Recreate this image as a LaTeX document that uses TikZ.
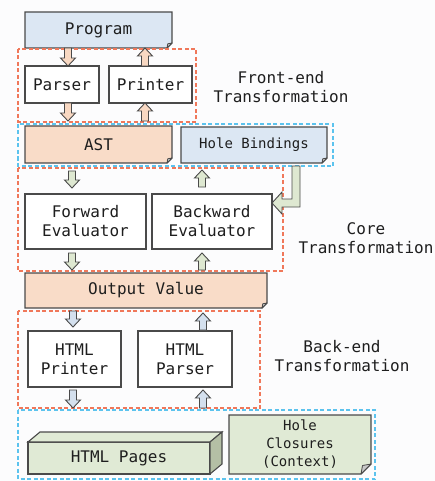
\documentclass[tikz,border=0pt]{standalone}
\usepackage{fontspec}
\newfontfamily\mono{DejaVu Sans Mono}
\usetikzlibrary{calc}
\pgfdeclarelayer{bg}
\pgfsetlayers{bg,main}
\definecolor{linecol}{HTML}{4A4A4A}
\definecolor{textcol}{HTML}{1E1E1E}
\definecolor{bgcol}{HTML}{FCFCFD}
\definecolor{boxblue}{HTML}{DCE7F3}
\definecolor{boxpeach}{HTML}{F9DCC8}
\definecolor{boxgreen}{HTML}{E0EAD5}
\definecolor{sidegreen}{HTML}{B4BFA5}
\definecolor{arrpeach}{HTML}{F8D8C2}
\definecolor{arrgreen}{HTML}{DEE8D1}
\definecolor{arrblue}{HTML}{D4E0EE}
\definecolor{foldcol}{HTML}{C8C8C8}
\definecolor{reddash}{HTML}{F0785A}
\definecolor{bluedash}{HTML}{5CC3EE}
\newcommand\foldshape[3]{%
  \begin{pgfonlayer}{bg}
  \draw[line width=1.1pt, draw=linecol, fill=#3, line join=miter]
    (#1.north west) -- (#1.north east) -- ([yshift=#2]#1.south east)
    -- ([xshift=-#2]#1.south east) -- (#1.south west) -- cycle;
  \draw[line width=0.8pt, draw=linecol, fill=foldcol, line join=round]
    ([yshift=#2]#1.south east) -- ([xshift=-#2]#1.south east)
    -- ([xshift=-0.85*#2,yshift=0.85*#2]#1.south east) -- cycle;
  \end{pgfonlayer}}
\tikzset{
  txt/.style={font=\mono\fontsize{16}{19}\selectfont, text=textcol, align=center},
  smalltxt/.style={font=\mono\fontsize{14}{18}\selectfont, text=textcol, align=center},
  box/.style={inner sep=0pt, outer sep=0pt, draw=none},
  plain/.style={box, draw=linecol, line width=1.1pt, fill=white},
  reddashed/.style={draw=reddash, line width=1.2pt, dash pattern=on 4pt off 2.5pt},
  bluedashed/.style={draw=bluedash, line width=1.2pt, dash pattern=on 4pt off 2.5pt},
  barrow/.style={draw=linecol, line width=0.9pt, fill=#1, line join=miter,
    to path={let \p1=(\tikztostart), \p2=(\tikztotarget), \n1={sign(\y1-\y2)} in
      (\x1-3.5pt,\y1) -- (\x1-3.5pt,\y2+\n1*8pt) -- (\x1-7.5pt,\y2+\n1*8pt)
      -- (\x1,\y2) -- (\x1+7.5pt,\y2+\n1*8pt) -- (\x1+3.5pt,\y2+\n1*8pt)
      -- (\x1+3.5pt,\y1) -- cycle}}
}
\begin{document}
\begin{tikzpicture}[x=1pt,y=-1pt]
\useasboundingbox (0,0) rectangle (435,481);
\begin{pgfonlayer}{bg}
\fill[bgcol] (0,0) rectangle (435,481);
\end{pgfonlayer}

% group frames
\draw[reddashed] (18,49) rectangle (196,122);
\draw[bluedashed] (18,124) rectangle (333,166);
\draw[reddashed] (18,168) rectangle (283,271);
\draw[reddashed] (18,311) rectangle (260,408);
\draw[bluedashed] (18,410) rectangle (375,479);

% boxes
\node[box, txt, minimum width=147pt, minimum height=36pt] (program) at (98.5,30) {Program};
\foldshape{program}{5pt}{boxblue}
\node[plain, txt, minimum width=74pt, minimum height=37pt] (parser) at (62,84.5) {Parser};
\node[plain, txt, minimum width=83pt, minimum height=37pt] (printer) at (150.5,84.5) {Printer};
\node[box, txt, minimum width=147pt, minimum height=37pt] (ast) at (98.5,144.5) {AST};
\foldshape{ast}{5pt}{boxpeach}
\node[box, smalltxt, minimum width=146pt, minimum height=36pt] (holeb) at (254,145) {Hole Bindings};
\foldshape{holeb}{5pt}{boxblue}
\node[plain, txt, minimum width=121pt, minimum height=55pt] (fwd) at (85.5,221.5) {Forward\\Evaluator};
\node[plain, txt, minimum width=120pt, minimum height=55pt] (bwd) at (212,221.5) {Backward\\Evaluator};
\node[box, txt, minimum width=242pt, minimum height=35pt] (out) at (146,290.5) {Output Value};
\foldshape{out}{5pt}{boxpeach}
\node[plain, txt, minimum width=93pt, minimum height=56pt] (hprint) at (74.5,359) {HTML\\Printer};
\node[plain, txt, minimum width=94pt, minimum height=56pt] (hparse) at (185,359) {HTML\\Parser};
\node[plain, txt, fill=boxgreen, minimum width=182pt, minimum height=32pt] (hpages) at (119,458) {HTML Pages};
\draw[line width=1.1pt, draw=linecol, fill=boxgreen, line join=miter]
  (hpages.north west) -- ++(12,-10) -- ([shift={(12,-10)}]hpages.north east) -- (hpages.north east) -- cycle;
\draw[line width=1.1pt, draw=linecol, fill=sidegreen, line join=miter]
  (hpages.north east) -- ++(12,-10) -- ([shift={(12,-10)}]hpages.south east) -- (hpages.south east) -- cycle;
\node[box, smalltxt, minimum width=142pt, minimum height=59pt] (hclos) at (300,444.5) {Hole\\Closures\\(Context)};
\foldshape{hclos}{10pt}{boxgreen}

% labels
\node[txt] (felbl) at (281,87.5) {Front-end\\Transformation};
\node[txt] (corelbl) at (366,238) {Core\\Transformation};
\node[txt] (belbl) at (342,356) {Back-end\\Transformation};

% front-end arrows
\draw[barrow=arrpeach] ([xshift=-30.5pt]program.south) to ([xshift=6pt]parser.north);
\draw[barrow=arrpeach] ([xshift=-5.5pt]printer.north) to ([xshift=46.5pt]program.south);
\draw[barrow=arrpeach] ([xshift=6pt]parser.south) to ([xshift=-30.5pt,yshift=5pt]ast.north);
\draw[barrow=arrpeach] ([xshift=46.5pt,yshift=5pt]ast.north) to ([xshift=-5.5pt]printer.south);

% core arrows
\draw[barrow=arrgreen] ([xshift=-26.5pt,yshift=-8pt]ast.south) to ([xshift=-13.5pt,yshift=6pt]fwd.north);
\draw[barrow=arrgreen] ([xshift=-10pt,yshift=7pt]bwd.north) to ([xshift=-52pt,yshift=-7pt]holeb.south);
\draw[barrow=arrgreen] ([xshift=-13.5pt,yshift=-4pt]fwd.south) to ([xshift=-74pt,yshift=3pt]out.north);
\draw[barrow=arrgreen] ([xshift=56pt,yshift=3pt]out.north) to ([xshift=-10pt,yshift=-4pt]bwd.south);
\coordinate (lstart) at ([xshift=42pt,yshift=-3pt]holeb.south);
\coordinate (ltip) at ([yshift=18.5pt]bwd.east);
\draw[draw=linecol, line width=0.9pt, fill=arrgreen, line join=miter]
  let \p1=(lstart), \p2=(ltip) in
  (\x1-4pt,\y1) -- (\x1+4pt,\y1) -- (\x1+4pt,\y2-4pt) -- (\x2+10pt,\y2-4pt)
  -- (\x2+10pt,\y2-11pt) -- (\x2,\y2) -- (\x2+10pt,\y2+11pt) -- (\x2+10pt,\y2+4pt)
  -- (\x1-4pt,\y2+4pt) -- cycle;

% back-end arrows
\draw[barrow=arrblue] ([xshift=-73pt,yshift=-3pt]out.south) to ([xshift=-1.5pt,yshift=4pt]hprint.north);
\draw[barrow=arrblue] ([xshift=18pt,yshift=1pt]hparse.north) to ([xshift=57pt,yshift=-5pt]out.south);
\draw[barrow=arrblue] ([xshift=-1.5pt,yshift=-3pt]hprint.south) to ([xshift=-46pt,yshift=34pt]hpages.north);
\draw[barrow=arrblue] ([xshift=84pt,yshift=34pt]hpages.north) to ([xshift=18pt,yshift=-3pt]hparse.south);
\end{tikzpicture}
\end{document}
